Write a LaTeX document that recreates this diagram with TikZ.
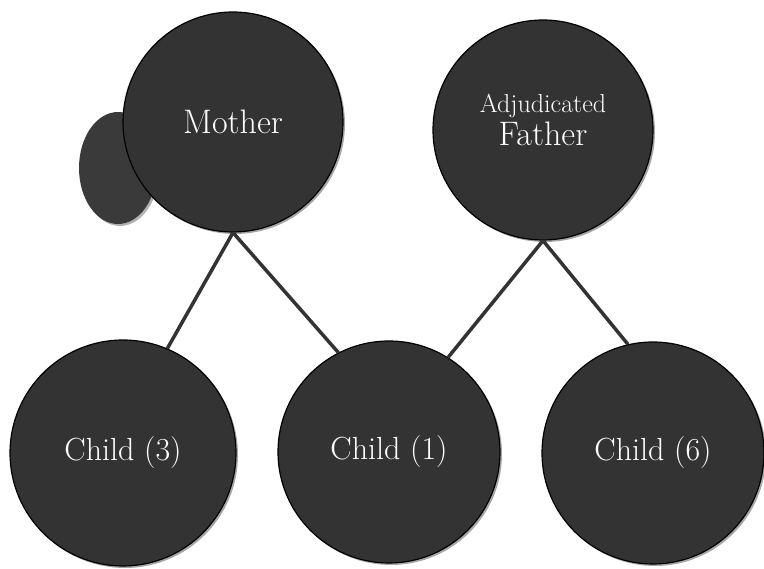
\documentclass[tikz,border=0pt]{standalone}
\usetikzlibrary{shadows,shapes.geometric}
\definecolor{nodefill}{HTML}{333333}
\definecolor{blobfill}{HTML}{3A3A3A}
\tikzset{
  person/.style={circle, draw=black, line width=1.2pt, fill=nodefill, inner sep=0pt,
    minimum size=#1, text=white, font=\fontsize{32}{36}\selectfont,
    drop shadow={shadow xshift=2pt, shadow yshift=-2pt, opacity=0.35, fill=black}},
  link/.style={draw=nodefill, line width=3.5pt}
}
\begin{document}
\begin{tikzpicture}[x=1pt,y=1pt]
\useasboundingbox (0,0) rectangle (764,569);
\node[ellipse, fill=blobfill, minimum width=78pt, minimum height=112pt, inner sep=0pt,
  drop shadow={shadow xshift=2pt, shadow yshift=-2pt, opacity=0.3, fill=black}] (blob) at (118,401) {};
\node[person=220pt, font=\fontsize{34}{38}\selectfont] (m) at (233,447) {Mother};
\node[person=220pt, label={[align=center, text=white, yshift=10pt, inner sep=0pt]center:{\fontsize{26}{28}\selectfont Adjudicated}\\[3pt]{\fontsize{34}{38}\selectfont Father}}] (f) at (543,439) {};
\node[person=226pt] (c3) at (123,116) {Child (3)};
\node[person=222pt] (c1) at (389,117) {Child (1)};
\node[person=222pt] (c6) at (653,116) {Child (6)};
\draw[link] (m.south) -- (c3.67);
\draw[link] (m.south) -- (c1.117);
\draw[link] (f.south) -- (c1.58);
\draw[link] (f.south) -- (c6.103);
\end{tikzpicture}
\end{document}
